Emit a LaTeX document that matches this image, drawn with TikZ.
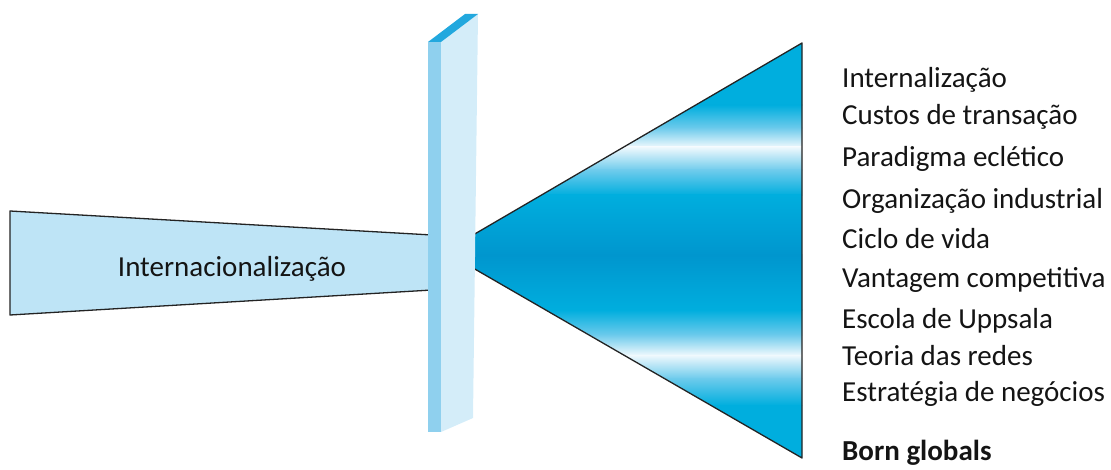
\documentclass[tikz,border=0pt]{standalone}
\usepackage{fontspec}
\setmainfont{Carlito}
\definecolor{barfill}{RGB}{190,228,246}
\definecolor{panelfront}{RGB}{143,208,238}
\definecolor{panelside}{RGB}{212,237,249}
\definecolor{paneltop}{RGB}{34,168,222}
\definecolor{cone}{RGB}{0,174,222}
\definecolor{conedeep}{RGB}{0,150,206}
\definecolor{conelight}{RGB}{110,203,236}
\definecolor{conewhite}{RGB}{240,249,253}
\definecolor{ink}{RGB}{20,20,20}
\definecolor{edge}{RGB}{35,35,35}
\tikzset{
  outline/.style={draw=edge, line width=1.3pt, line join=round},
  label/.style={anchor=base west, inner sep=0pt, text=ink, font=\fontsize{29}{33}\selectfont},
}
\begin{document}
\begin{tikzpicture}[x=1pt, y=-1pt]
\useasboundingbox (0,0) rectangle (1111,470);

% funnel entering the panel
\filldraw[outline, fill=barfill] (10,211) -- (432,235) -- (432,290) -- (10,315) -- cycle;
\node[anchor=base, inner sep=0pt, text=ink, font=\fontsize{29}{33}\selectfont] (intl) at (232,277) {Internacionalização};

% widening cone with horizontal bands
\begin{scope}
  \clip (473,235) -- (802,43) -- (802,458) -- (473,268) -- cycle;
  \shade[top color=cone, bottom color=cone] (470,40) rectangle (805,105.5);
  \shade[top color=cone, bottom color=conelight] (470,105) rectangle (805,128.5);
  \shade[top color=conelight, bottom color=conewhite] (470,128) rectangle (805,147.5);
  \shade[top color=conewhite, bottom color=conelight] (470,147) rectangle (805,170.5);
  \shade[top color=conelight, bottom color=cone] (470,170) rectangle (805,195.5);
  \shade[top color=cone, bottom color=conedeep] (470,195) rectangle (805,255.5);
  \shade[top color=conedeep, bottom color=cone] (470,255) rectangle (805,310.5);
  \shade[top color=cone, bottom color=conelight] (470,310) rectangle (805,335.5);
  \shade[top color=conelight, bottom color=conewhite] (470,335) rectangle (805,355.5);
  \shade[top color=conewhite, bottom color=conelight] (470,355) rectangle (805,378.5);
  \shade[top color=conelight, bottom color=cone] (470,378) rectangle (805,405.5);
  \shade[top color=cone, bottom color=cone] (470,405) rectangle (805,462);
\end{scope}
\draw[outline] (473,235) -- (802,43) -- (802,458) -- (473,268);

% glass panel
\fill[panelside] (441,42) -- (478,14) -- (473,418) -- (441,432) -- cycle;
\fill[panelfront] (428,42) rectangle (441,432);
\fill[paneltop] (428,42) -- (441,42) -- (478,14) -- (465,14) -- cycle;

% theories
\node[label] (t1) at (842,88) {Internalização};
\node[label] (t2) at (842,125) {Custos de transação};
\node[label] (t3) at (842,167) {Paradigma eclético};
\node[label] (t4) at (842,209) {Organização industrial};
\node[label] (t5) at (842,249) {Ciclo de vida};
\node[label] (t6) at (842,288) {Vantagem competitiva};
\node[label] (t7) at (842,328) {Escola de Uppsala};
\node[label] (t8) at (842,365) {Teoria das redes};
\node[label] (t9) at (842,401) {Estratégia de negócios};
\node[label, font=\fontsize{29}{33}\bfseries\selectfont] (t10) at (842,460) {Born globals};
\end{tikzpicture}
\end{document}
